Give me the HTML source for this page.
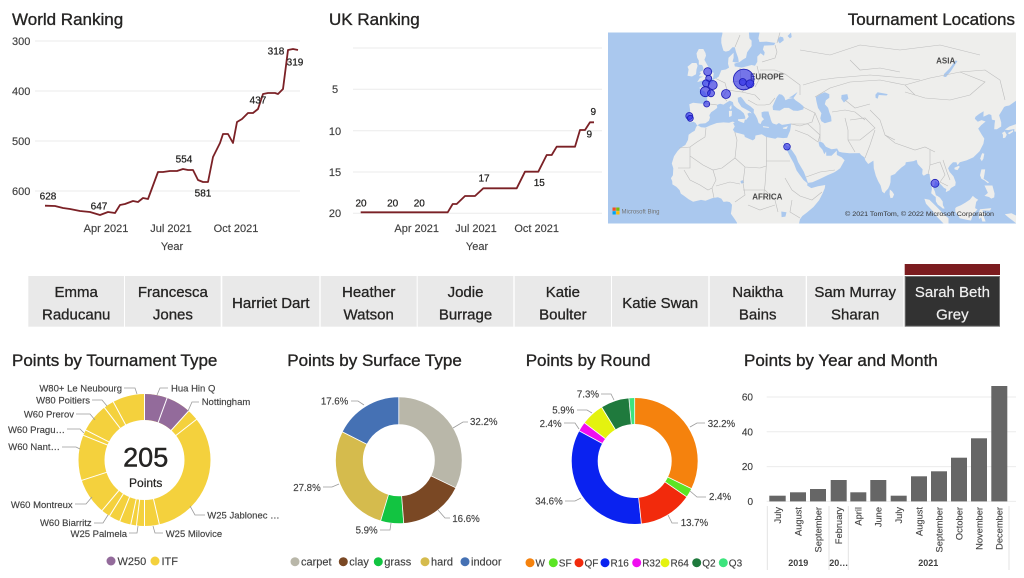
<!DOCTYPE html>
<html><head><meta charset="utf-8"><style>
html,body{margin:0;padding:0;background:#fff;width:1024px;height:578px;overflow:hidden}
svg{display:block;font-family:"Liberation Sans",Arial,sans-serif}
</style></head><body>
<svg width="1024" height="578" viewBox="0 0 1024 578" xmlns="http://www.w3.org/2000/svg">
<defs><clipPath id="mc"><rect x="608" y="32.5" width="408" height="191"/></clipPath></defs>

<!-- ============ WORLD RANKING ============ -->
<g font-size="17" fill="#252423" stroke="#252423" stroke-width="0.35">
<text x="12" y="25">World Ranking</text>
<text x="329" y="25">UK Ranking</text>
<text x="1015" y="25" text-anchor="end">Tournament Locations</text>
<text x="12" y="366">Points by Tournament Type</text>
<text x="287.3" y="366">Points by Surface Type</text>
<text x="525.7" y="366">Points by Round</text>
<text x="744" y="366">Points by Year and Month</text>
</g>
<g stroke="#ebebeb" stroke-width="1">
<line x1="35" y1="41" x2="300" y2="41"/><line x1="35" y1="91" x2="300" y2="91"/>
<line x1="35" y1="141" x2="300" y2="141"/><line x1="35" y1="191" x2="300" y2="191"/>
</g>
<g font-size="11" fill="#404040" stroke="#404040" stroke-width="0.15">
<text x="12" y="45">300</text><text x="12" y="95">400</text><text x="12" y="145">500</text><text x="12" y="195">600</text>
</g>
<polyline fill="none" stroke="#7b2126" stroke-width="1.8" stroke-linejoin="round" points="45,205.7 55,206 63,208 70,209 80,211 90,212 100,215 108,212 115,213 120,205 125,204 133,201 138,202 143,198 148,199 158,172 163,172 170,171 177,171 183,169 188,170 193,170 198,180 203,182 208,182 213,157 220,143 223,134 228,134 233,143 237,122 242,119 248,113 253,113 258,109 263,94 268,93 275,93 278,94 283,89 288,50 293,49 298,50"/>
<g font-size="10" fill="#252423" stroke="#252423" stroke-width="0.25" text-anchor="middle">
<text x="48" y="199.5">628</text><text x="99" y="209.5">647</text><text x="184" y="162.5">554</text>
<text x="203" y="196.5">581</text><text x="258" y="103.5">437</text><text x="276" y="54.5">318</text><text x="295" y="65.5">319</text>
</g>
<g font-size="11" fill="#404040" stroke="#404040" stroke-width="0.15" text-anchor="middle">
<text x="106" y="232">Apr 2021</text><text x="171" y="232">Jul 2021</text><text x="236" y="232">Oct 2021</text>
<text x="172" y="250">Year</text>
</g>

<!-- ============ UK RANKING ============ -->
<g stroke="#ebebeb" stroke-width="1">
<line x1="353" y1="48" x2="602" y2="48"/><line x1="353" y1="89.3" x2="602" y2="89.3"/>
<line x1="353" y1="130.7" x2="602" y2="130.7"/><line x1="353" y1="172" x2="602" y2="172"/>
<line x1="353" y1="213.3" x2="602" y2="213.3"/>
</g>
<g font-size="11" fill="#404040" stroke="#404040" stroke-width="0.15" text-anchor="middle">
<text x="335" y="93">5</text><text x="335" y="135">10</text><text x="335" y="176">15</text><text x="335" y="217">20</text>
</g>
<polyline fill="none" stroke="#7b2126" stroke-width="1.8" stroke-linejoin="round" points="360.7,212.3 447.7,212.3 452.7,204 456.7,204 465,196 475,196 483.3,188.3 516.7,188.3 525,171.7 538.3,171.7 546.7,155 551.7,155 556.7,146.7 575,146.7 580,130 585,130 590,122.3 594,122.3"/>
<g font-size="10" fill="#252423" stroke="#252423" stroke-width="0.25" text-anchor="middle">
<text x="361" y="206.5">20</text><text x="392.7" y="206.5">20</text><text x="419.3" y="206.5">20</text>
<text x="484" y="181.5">17</text><text x="539.3" y="186">15</text><text x="593.3" y="115">9</text><text x="589.3" y="137.5">9</text>
</g>
<g font-size="11" fill="#404040" stroke="#404040" stroke-width="0.15" text-anchor="middle">
<text x="416.7" y="232">Apr 2021</text><text x="476" y="232">Jul 2021</text><text x="536.7" y="232">Oct 2021</text>
<text x="477" y="250">Year</text>
</g>

<!-- ============ MAP ============ -->
<g clip-path="url(#mc)">
<rect x="608" y="32.5" width="408" height="191" fill="#eeeeec"/>
<g fill="#aac8ee">
<polygon points="608,32.5 722.4,32.5 722.4,33.7 721.3,38.4 721.3,42.9 722.4,47.3 723.5,50.8 725.8,51.6 729.1,50.8 732.5,47.3 734.8,47.3 735.9,51.6 738.1,57.8 738.8,61.8 736,62.5 732.5,61.8 733.6,57.8 733.6,52.8 728.5,57.8 728,63.8 729.1,67.6 725.8,69.5 721.3,70.2 720.1,73.2 718.6,76.8 715.6,78.6 713.6,79.3 713.6,81.4 710,83.9 706.6,83.2 706.6,86.6 703.3,86.3 699.4,87.6 700.3,89.6 704.4,91.3 707.3,95.5 707.1,100.3 706.6,103.7 703.3,103.7 698.8,103.4 693.1,102.8 689.3,104.3 689.8,107.9 690.2,110.9 688.6,116.7 689.3,117.5 690.2,119.9 689.8,122.4 692,122.1 693.4,121.8 695.6,123 696.5,124.6 697.4,125.2 697,125.8 696,127.3 694.7,130.7 692,132.3 688.6,134.7 688,139.9 685.3,145 680.8,147.6 677.4,151.3 674,156.2 671.8,163.5 673.3,168.2 672.9,175.3 670.9,178.3 672.2,181 672.4,184.4 676.3,186.7 679.6,190.1 680.8,193.6 684.1,195.9 688.6,199.2 693.1,201.7 701,199.9 705.5,200.8 712.3,198.1 717.9,197.2 721.3,198.6 723.5,201.9 726.9,201.5 729.8,202.1 732,204.8 731.6,209.3 730.9,213.7 734.8,219.3 737,222.7 737,224 608,224"/>
<polygon points="739.3,62.2 742.6,59.8 746,57.8 747.1,52.4 751.6,46 751.6,40.6 749.4,38.4 748.9,32.5 759.5,32.5 758.4,38.4 759.5,42 766.3,41.6 775.3,42.9 774.1,45.1 764,45.6 762.9,49.5 764.7,52.4 764,55.8 760.6,53.2 757.3,56.6 757.3,61.8 755,65.7 751.6,65 746,66.5 741.5,67.6 737,66.8 734.8,66.5 734.3,63.8 738.1,62.2"/>
<polygon points="697.4,125.2 699.9,123.8 705.5,123.3 708.9,120.7 710,117.5 709.3,115.3 711.1,112.3 714.5,110 717.2,107.9 717,104.9 720.1,103.7 723.5,104.6 726.9,102.4 729.8,100.6 732.9,102.1 733.6,105.2 737,108.2 740.4,110.3 743.8,113.2 745.3,117 745.1,119.6 746.2,119.9 747.4,118.2 748.7,116.7 747.4,113.8 749.4,112.6 751.6,113.5 750.5,112 746,109.4 741.5,107 738.1,101.8 737.7,97.8 740.8,96.8 742.6,98.7 746,103.4 750.5,106.4 753.9,109.4 753.7,112.6 755.5,115.3 757.3,118.8 758.6,123 760.6,124.1 761.8,121.2 764,119.3 761.8,116.7 761.5,112.3 764,111.5 768.5,111.5 769,113.8 770.1,116.7 770.8,119.6 771.9,122.4 773,123.5 776.4,124.6 778.9,123 782,124.9 786.5,124.3 791,123.5 790.8,126.5 790.1,130.7 788.8,133.7 787.2,137.8 783.1,138.1 777.5,137.5 775.3,138.8 766.3,137 761.8,134.2 755.5,135.5 755,138.8 752.8,140.4 744.9,137 744.2,134.7 739.3,133.4 734.8,132.3 732.9,129.7 734.8,126.5 733.2,123.2 734.8,122.1 732.5,121.6 729.1,122.7 723.5,122.4 716.8,123 710,125.5 705.5,127.6 701,127.3 698.1,125.5"/>
<polygon points="773,110 775.3,110.3 779.8,110.6 784.3,107.9 788.8,107.9 793.3,110.6 797.8,110.9 803.4,109.4 803.6,106.4 800,103.4 795.5,100.3 793.3,98 788.8,98.7 785.4,100.3 784.3,97.1 782,94.7 779.1,94.1 776.8,97.1 774.6,101.8 772.6,106.4"/>
<polygon points="789,97.5 792,96 797.5,92 796,94.5 793.5,98"/>
<polygon points="815.8,97.1 820.3,94.1 824.8,92.3 829.3,94.1 829.3,97.8 825.9,100.3 824.8,104.3 828.1,107.9 829.3,112.3 831.1,116.7 831.5,121.3 824.8,123.2 821.4,121.2 820.3,118.2 821.4,113.2 818,107.9 816.9,103.4 816.2,100.3"/>
<polygon points="783.1,141.2 784.3,145 786,148.5 789.9,156.2 793.9,163.5 796.6,170.5 800,175.3 803.4,179.9 807.4,183.2 807.2,185.5 811.3,188.1 818,186.3 825.2,185 824.8,188.1 822.5,193.6 819.1,200.3 813.5,207 806.8,212.6 802.3,216 800,219.3 798.9,224 1017,224 1017,100 1009.3,105.5 1005.9,106.1 1004.1,107 1001.8,110.9 999.1,115.3 1001.2,122.4 1001.2,126.5 996.9,129.2 994.2,129.2 994.6,123.8 995.1,120.4 991.9,119.6 991.3,115 989,114.1 983.4,116.7 983.6,111.2 978.9,114.1 975.5,116.7 974.8,118.8 977.8,121.8 981.6,120.1 985.6,121.5 981.1,125.2 978.2,128.6 981.8,134.7 984.3,138.6 983.4,143.8 979.6,151.3 973.3,157.4 966.5,160.4 959.8,162.3 957.5,165.2 956.4,162.3 953,162.3 949.9,165.4 948.1,168.2 949.6,171.9 953.5,176.4 955.7,182.2 955.3,185.5 950.8,188.1 949.6,190.2 945.8,192.1 946.3,189 944,187.9 941.8,185.5 939.5,183.2 937,182.6 935.2,180.8 934.8,183.2 933.2,187.9 934.8,191.2 935.9,195.2 937.9,196.3 940,197.7 942.7,201.5 942.9,205.2 944.7,208.4 942.9,208.6 940.6,206.6 937.9,204.8 935.9,201.5 935.7,197 934.1,195.9 931.2,193.2 931.9,189 931.6,184.4 930,178 929.6,174.1 927.1,173.7 923.8,175.7 922.2,174.1 922.6,169.3 920.6,167.1 917.7,164 916.6,159.9 913.6,161.1 910.3,161.6 905.8,162.3 905.3,164.7 901.3,167.6 896.8,171.9 895,174 890.7,175.7 890.5,182.2 889.6,185.5 888.2,188.5 885.5,191.5 884.4,193.4 882.1,191.5 880.6,185.5 878.1,181.1 875.8,175.7 873.8,168.2 873.6,163.6 873.4,160.6 868.2,164 865.3,160.2 864.6,157.5 861.2,155.1 859.6,153.1 849.5,153.3 842.3,152.5 839,151.8 837.1,148.5 831.5,149.3 825.9,146.8 823.2,143 819.8,141.2 818.5,142.5 819.4,146.3 822.5,149.8 824.3,154.3 826.1,151.5 826.3,155.7 831.5,155.7 835.1,152.2 836.7,150.5 836.9,155 841.6,157.2 844.6,160.2 842.1,164.7 840.1,168.2 837.1,170.5 834.2,172.4 827.5,175.3 820.3,178.8 812.4,182.2 807.9,182.9 806.1,177.6 803.8,171.7 798.2,162.3 796,156.2 792.6,151.3 788.8,146.3 787.4,146.3 785.6,144.6 783.4,141.5"/>
<polygon points="777.5,39.8 780,36.5 783.1,37.4 783.8,40.2 779.8,43.4 778.6,42"/>
<polygon points="787.6,36 791,32.5 791.7,37 789.9,38.4"/>
<polygon points="841.6,95 847.3,94.1 848.4,98.7 843.9,102.5 841.2,98.7"/>
<polygon points="875.4,94.7 877.6,92.3 887.8,94.1 886.6,95.5 878.8,95 877.6,98.7 875.6,97.8"/>
<polygon points="943.5,76.8 946,77 951,71 957.5,61 955.5,60.5 950,68 944,74"/>
<polygon points="781.3,211.5 786.5,212.2 785.4,216.6 781.6,217.1"/>
<polygon points="740.5,181 743.5,180 744,183 741,183.5"/>
</g>
<g fill="#eeeeec">
<polygon points="698.8,49 703.3,49 705.5,53 706,55.8 704.4,59.8 706.6,63.8 708.9,67.6 710.5,69.5 710.7,71.8 713.8,72.9 713.2,77.2 712.9,78.2 710,79.3 705.5,80 701,81 697.2,82.1 699.9,77.9 703.3,76.8 698.8,76.1 701,73.2 699.4,72.1 703.3,70.2 703.3,67.6 702.1,65 698.8,64.6 698.8,60.6 697.2,57.8 696.5,53.4"/>
<polygon points="696.5,63 697.6,65.8 696.5,69.5 696,74.3 692,76.5 687.5,75.7 688.6,69.5 687.5,66.8 692,63"/>
<polygon points="737.9,119.3 745.1,118.8 744,123 741,122 738.1,120.7"/>
<polygon points="728.9,110.9 732,110.9 731.6,116 729.1,117"/>
<polygon points="731.2,104.9 731.6,107.9 730.7,109.7 729.4,107.9"/>
<polygon points="762.9,126.1 769.2,127 768.5,127.9 763.1,127.3"/>
<polygon points="782.7,127.9 787.9,126.1 786.5,129 783.1,128.7"/>
<polygon points="924.4,198.8 929.4,199.8 935.7,205.9 943.3,213.7 948.5,218.2 948.5,224 944,224 937.3,217.1 932.1,210.4 926,203.7"/>
<polygon points="955.3,208.1 956.6,207 960.9,205.2 965.4,202.6 969.9,199.6 972.8,195.9 975.5,198.1 978.2,199.8 976.2,201.9 975.1,208.1 977.5,209.5 974.4,212.6 972.1,217.1 971,220.5 967.6,220 959.8,218.2 957.5,214.9 955.3,211.5"/>
<polygon points="980,209.3 991.3,208.1 990.1,210.6 982.3,210.4 984.5,213.7 987.4,213.5 983.4,215.5 985.6,221.5 982.3,221.5 981.1,217.1 978.9,219.3 978.9,212.6"/>
<polygon points="981.4,169.4 985.2,169.4 984.5,174.1 983.6,178.8 989,182.2 987.9,183.3 984.5,180.4 981.4,178.8 980,175.3"/>
<polygon points="984.5,185.5 992.4,185.5 994.6,193.6 994.2,197.4 991.3,198.6 989,197 984.5,195.9 987.9,192.9 985.6,187.9"/>
<polygon points="982.3,153.1 984.3,153.8 983.4,158.6 981.8,161.3 980.2,158.6 981.4,155"/>
<polygon points="954.4,167.8 958.6,165.9 959.8,166.8 957.5,170.1 954.6,169.4"/>
<polygon points="889.8,189.5 892,191.2 894.1,194.4 892.7,197.7 890.5,198.1 889.6,194.4"/>
<polygon points="1002,133 1004.8,131.4 1006.8,134.7 1005.2,137.8 1002.95,138.1 1002.95,134.7"/>
<polygon points="1004.8,129.6 1009.3,126.5 1017,123.8 1017,131.9 1014.2,131.4 1014.4,129 1008.1,130.1"/>
<polygon points="1007.7,133.1 1012.9,130.1 1013.1,131.7 1009.3,134.2"/>
<polygon points="1004.8,214.2 1011.5,213.3 1017,216 1017,224 1012.6,220.5 1008.1,217.1"/>
</g>
<g fill="none" stroke="#bdbdbd" stroke-width="0.6">
<polyline points="706,128 705,137 697,142 690,147 679,148"/>
<polyline points="690,147 690,156 703,165 713,170 722,168 735,158"/>
<polyline points="734.8,132 737,140 735,158 745,167 760,168 766.3,166"/>
<polyline points="766.3,137 766.3,166 765,185 763,200"/>
<polyline points="766.3,161 790,161"/>
<polyline points="678,168 690,168 690,156"/>
<polyline points="713,170 716,180 712,188 714,198"/>
<polyline points="745,167 743,183 745,195 735,202"/>
<polyline points="716,186 730,182 740,184"/>
<polyline points="785,178 792,190 800,196 812,200 822,192"/>
<polyline points="792,200 790,212 800,218"/>
<polyline points="743,190 765,190 775,200 778,212"/>
<polyline points="748,205 760,210 775,205"/>
<polyline points="684,170 690,180 700,185 708,190 712,188"/>
<polyline points="707,103.7 717,104.9"/>
<polyline points="716,78.6 725,83 727,90 723,97 727,101"/>
<polyline points="740,68 741,85"/>
<polyline points="727,90 742,92 746,88"/>
<polyline points="757,66 760,78 755,87"/>
<polyline points="732,82 746,80 752,86 745,90 735,88"/>
<polyline points="742,92 755,95 760,100"/>
<polyline points="748,100 757,105 765,105 770,104 775,98"/>
<polyline points="760,78 785,74 800,85 800,95"/>
<polyline points="760,70 775,70 785,74"/>
<polyline points="762,62 775,58 777,52 775,45"/>
<polyline points="777,43 780,32.5"/>
<polyline points="735,47 740,35"/>
<polyline points="803,107 815,113 812,122 800,126 791,124"/>
<polyline points="791,124 808,124 820,135 818,142"/>
<polyline points="815,113 820,125 820,141"/>
<polyline points="795,130 808,135 818,142"/>
<polyline points="806,177 820,172 835,170"/>
<polyline points="845,118 848,130 848,140 855,152"/>
<polyline points="815,97 830,88 850,82 880,80 905,85 915,95"/>
<polyline points="803,85 820,80 835,78 870,75 905,78 920,80"/>
<polyline points="832,112 845,110 855,112 865,120"/>
<polyline points="845,100 855,108 870,104"/>
<polyline points="870,110 880,120 885,135 895,140"/>
<polyline points="885,135 895,143 915,150 925,147 935,152"/>
<polyline points="875,130 870,145 865,158"/>
<polyline points="905,85 930,78 960,72 985,82 970,95 950,100 925,98 905,92"/>
<polyline points="960,72 985,70 1000,80 1005,100"/>
<polyline points="930,150 930,165 928,175"/>
<polyline points="930,165 940,162 945,175 940,182"/>
<polyline points="943,160 947,172 950,180"/>
<polyline points="940,182 948,186"/>
<polyline points="850,120 865,118 875,128 860,140 848,140"/>
<polyline points="850,60 860,70 880,68 900,72"/>
<polyline points="800,50 830,55 860,45 900,50 940,45 980,55"/>
</g>
<g font-size="8" font-weight="bold" fill="#4a4a4a" text-anchor="middle">
<text x="767" y="79.6">EUROPE</text>
<text x="945.7" y="63.6">ASIA</text>
<text x="767.3" y="199.6">AFRICA</text>
</g>
<g fill="#2a2ae6" fill-opacity="0.62" stroke="#1c1cb5" stroke-width="0.8">
<circle cx="707.7" cy="71.7" r="4"/>
<circle cx="708.7" cy="78.3" r="3"/>
<circle cx="706" cy="83.3" r="3.5"/>
<circle cx="712.7" cy="85" r="4.5"/>
<circle cx="705.3" cy="91.7" r="5"/>
<circle cx="711" cy="93.3" r="3.5"/>
<circle cx="726" cy="94" r="4.5"/>
<circle cx="706.7" cy="104" r="3"/>
<circle cx="689.3" cy="116" r="3.5"/>
<circle cx="690.3" cy="118.3" r="3"/>
<circle cx="743.7" cy="79.5" r="10.3"/>
<circle cx="742.7" cy="82" r="3.5"/>
<circle cx="750" cy="83.8" r="4"/>
<circle cx="787" cy="146.7" r="3.3"/>
<circle cx="935" cy="183.3" r="4"/>
</g>
<rect x="612.5" y="207.5" width="3.3" height="3.3" fill="#f25022"/>
<rect x="616.2" y="207.5" width="3.3" height="3.3" fill="#7fba00"/>
<rect x="612.5" y="211.2" width="3.3" height="3.3" fill="#00a4ef"/>
<rect x="616.2" y="211.2" width="3.3" height="3.3" fill="#ffb900"/>
<text x="621.5" y="213.5" font-size="6" fill="#737373">Microsoft Bing</text>
<text x="845" y="216" font-size="6.6" fill="#333" textLength="149" lengthAdjust="spacingAndGlyphs">© 2021 TomTom, © 2022 Microsoft Corporation</text>
</g>

<!-- ============ BUTTONS ============ -->
<rect x="904.7" y="264" width="95.3" height="11" fill="#7b1c1f"/>
<g fill="#e9e9e9">
<rect x="28.3" y="276" width="95.7" height="50.7"/>
<rect x="125" y="276" width="95.7" height="50.7"/>
<rect x="222.3" y="276" width="97" height="50.7"/>
<rect x="320.7" y="276" width="96" height="50.7"/>
<rect x="417.7" y="276" width="95.6" height="50.7"/>
<rect x="514.7" y="276" width="96.3" height="50.7"/>
<rect x="612" y="276" width="96.3" height="50.7"/>
<rect x="709.7" y="276" width="96" height="50.7"/>
<rect x="807" y="276" width="96.3" height="50.7"/>
</g>
<rect x="905.2" y="276.5" width="94.3" height="49.7" fill="#323232" stroke="#707070" stroke-width="1"/>
<g font-size="15" fill="#252423" stroke="#252423" stroke-width="0.3" text-anchor="middle">
<text x="76.2" y="297">Emma</text><text x="76.2" y="319.5">Raducanu</text>
<text x="172.9" y="297">Francesca</text><text x="172.9" y="319.5">Jones</text>
<text x="270.8" y="308">Harriet Dart</text>
<text x="368.7" y="297">Heather</text><text x="368.7" y="319.5">Watson</text>
<text x="465.5" y="297">Jodie</text><text x="465.5" y="319.5">Burrage</text>
<text x="562.9" y="297">Katie</text><text x="562.9" y="319.5">Boulter</text>
<text x="660.2" y="308">Katie Swan</text>
<text x="757.7" y="297">Naiktha</text><text x="757.7" y="319.5">Bains</text>
<text x="855.2" y="297">Sam Murray</text><text x="855.2" y="319.5">Sharan</text>
</g>
<g font-size="15" fill="#f0f0f0" stroke="#f0f0f0" stroke-width="0.2" text-anchor="middle">
<text x="952.4" y="297">Sarah Beth</text><text x="952.4" y="319.5">Grey</text>
</g>

<!-- ============ POINTS BY TOURNAMENT TYPE ============ -->
<circle cx="144.5" cy="460" r="53" fill="none" stroke="#f4d13d" stroke-width="26"/>
<circle cx="144.5" cy="460" r="53" fill="none" stroke="#936b9b" stroke-width="26" stroke-dasharray="38.85 400" transform="rotate(-90 144.5 460)"/>
<g stroke="#fff" stroke-width="1">
<line x1="144.5" y1="421" x2="144.5" y2="393" transform="rotate(0 144.5 460)"/>
<line x1="144.5" y1="421" x2="144.5" y2="393" transform="rotate(20 144.5 460)"/>
<line x1="144.5" y1="421" x2="144.5" y2="393" transform="rotate(42 144.5 460)"/>
<line x1="144.5" y1="421" x2="144.5" y2="393" transform="rotate(52 144.5 460)"/>
<line x1="144.5" y1="421" x2="144.5" y2="393" transform="rotate(167 144.5 460)"/>
<line x1="144.5" y1="421" x2="144.5" y2="393" transform="rotate(180 144.5 460)"/>
<line x1="144.5" y1="421" x2="144.5" y2="393" transform="rotate(187 144.5 460)"/>
<line x1="144.5" y1="421" x2="144.5" y2="393" transform="rotate(192 144.5 460)"/>
<line x1="144.5" y1="421" x2="144.5" y2="393" transform="rotate(202 144.5 460)"/>
<line x1="144.5" y1="421" x2="144.5" y2="393" transform="rotate(212 144.5 460)"/>
<line x1="144.5" y1="421" x2="144.5" y2="393" transform="rotate(220 144.5 460)"/>
<line x1="144.5" y1="421" x2="144.5" y2="393" transform="rotate(252 144.5 460)"/>
<line x1="144.5" y1="421" x2="144.5" y2="393" transform="rotate(292 144.5 460)"/>
<line x1="144.5" y1="421" x2="144.5" y2="393" transform="rotate(297 144.5 460)"/>
<line x1="144.5" y1="421" x2="144.5" y2="393" transform="rotate(322.6 144.5 460)"/>
<line x1="144.5" y1="421" x2="144.5" y2="393" transform="rotate(331.8 144.5 460)"/>
</g>
<text x="145.7" y="466.4" font-size="27" fill="#252423" stroke="#252423" stroke-width="0.45" text-anchor="middle">205</text>
<text x="145.7" y="487" font-size="12" fill="#252423" stroke="#252423" stroke-width="0.2" text-anchor="middle">Points</text>
<g fill="none" stroke="#9a9a9a" stroke-width="0.8">
<polyline points="124,388 135,388 137,394"/>
<polyline points="157,395 160,388 168,388"/>
<polyline points="188,411 192,402 199,402"/>
<polyline points="92,400 102,400 107,406"/>
<polyline points="76,414 90,414 95,420"/>
<polyline points="67,429 80,429 84,433"/>
<polyline points="62,447 76,447 80,449"/>
<polyline points="75,504 86,504 92,497"/>
<polyline points="94,523 103,523 108,515"/>
<polyline points="129,533 137,533 138,526"/>
<polyline points="153,526 155,533 163,533"/>
<polyline points="190,506 195,515 205,515"/>
</g>
<g font-size="9.5" fill="#404040" stroke="#404040" stroke-width="0.15">
<text x="122" y="391.3" text-anchor="end">W80+ Le Neubourg</text>
<text x="171" y="391.3">Hua Hin Q</text>
<text x="201.7" y="405">Nottingham</text>
<text x="90" y="403.5" text-anchor="end">W80 Poitiers</text>
<text x="74" y="417.5" text-anchor="end">W60 Prerov</text>
<text x="65" y="432.8" text-anchor="end">W60 Pragu…</text>
<text x="60" y="450.2" text-anchor="end">W60 Nant…</text>
<text x="72.7" y="507.8" text-anchor="end">W60 Montreux</text>
<text x="91.7" y="526.2" text-anchor="end">W60 Biarritz</text>
<text x="127" y="536.8" text-anchor="end">W25 Palmela</text>
<text x="165.7" y="536.8">W25 Milovice</text>
<text x="207.3" y="518.5">W25 Jablonec …</text>
</g>
<circle cx="111" cy="561" r="4.5" fill="#936b9b"/>
<circle cx="155" cy="561" r="4.5" fill="#f4d13d"/>
<g font-size="11" fill="#404040" stroke="#404040" stroke-width="0.15">
<text x="117.5" y="565">W250</text>
<text x="161.5" y="565">ITF</text>
</g>

<!-- ============ POINTS BY SURFACE TYPE ============ -->
<g fill="none" stroke-width="27" transform="rotate(-90 398.8 460.3)">
<circle cx="398.8" cy="460.3" r="49.5" stroke="#b9b7a9" stroke-dasharray="100.05 311.02" stroke-dashoffset="0"/>
<circle cx="398.8" cy="460.3" r="49.5" stroke="#7a4824" stroke-dasharray="51.57 311.02" stroke-dashoffset="-100.05"/>
<circle cx="398.8" cy="460.3" r="49.5" stroke="#12c441" stroke-dasharray="18.33 311.02" stroke-dashoffset="-151.62"/>
<circle cx="398.8" cy="460.3" r="49.5" stroke="#d5bb4d" stroke-dasharray="86.37 311.02" stroke-dashoffset="-169.95"/>
<circle cx="398.8" cy="460.3" r="49.5" stroke="#4571b4" stroke-dasharray="54.68 311.02" stroke-dashoffset="-256.32"/>
</g>
<g stroke="#fff" stroke-width="0.8">
<line x1="398.8" y1="424.5" x2="398.8" y2="396.5" transform="rotate(0 398.8 460.3)"/>
<line x1="398.8" y1="424.5" x2="398.8" y2="396.5" transform="rotate(115.8 398.8 460.3)"/>
<line x1="398.8" y1="424.5" x2="398.8" y2="396.5" transform="rotate(175.5 398.8 460.3)"/>
<line x1="398.8" y1="424.5" x2="398.8" y2="396.5" transform="rotate(196.7 398.8 460.3)"/>
<line x1="398.8" y1="424.5" x2="398.8" y2="396.5" transform="rotate(296.7 398.8 460.3)"/>
</g>
<g fill="none" stroke="#9a9a9a" stroke-width="0.8">
<polyline points="453,428 463,422 468,422"/>
<polyline points="438,510 445,518 450,518"/>
<polyline points="391,523 390,530 380,530"/>
<polyline points="339,484 332,487 323,487"/>
<polyline points="364,405 358,401 351,401"/>
</g>
<g font-size="9.7" fill="#404040" stroke="#404040" stroke-width="0.15">
<text x="470" y="425">32.2%</text>
<text x="452.3" y="521.8">16.6%</text>
<text x="377.7" y="533.5" text-anchor="end">5.9%</text>
<text x="320.7" y="490.8" text-anchor="end">27.8%</text>
<text x="348.3" y="404.5" text-anchor="end">17.6%</text>
</g>
<circle cx="295" cy="561.7" r="4.5" fill="#b9b7a9"/>
<circle cx="343.3" cy="561.7" r="4.5" fill="#7a4824"/>
<circle cx="378.3" cy="561.7" r="4.5" fill="#12c441"/>
<circle cx="425" cy="561.7" r="4.5" fill="#d5bb4d"/>
<circle cx="465" cy="561.7" r="4.5" fill="#4571b4"/>
<g font-size="11" fill="#404040" stroke="#404040" stroke-width="0.15">
<text x="301" y="565.5">carpet</text>
<text x="349.3" y="565.5">clay</text>
<text x="384.3" y="565.5">grass</text>
<text x="431" y="565.5">hard</text>
<text x="471" y="565.5">indoor</text>
</g>

<!-- ============ POINTS BY ROUND ============ -->
<g fill="none" stroke-width="26" transform="rotate(-90 634.7 461)">
<circle cx="634.7" cy="461" r="50" stroke="#f5820d" stroke-dasharray="101.16 314.16" stroke-dashoffset="0"/>
<circle cx="634.7" cy="461" r="50" stroke="#5be524" stroke-dasharray="7.54 314.16" stroke-dashoffset="-101.16"/>
<circle cx="634.7" cy="461" r="50" stroke="#f22a0c" stroke-dasharray="43.04 314.16" stroke-dashoffset="-108.70"/>
<circle cx="634.7" cy="461" r="50" stroke="#0a22f0" stroke-dasharray="108.70 314.16" stroke-dashoffset="-151.74"/>
<circle cx="634.7" cy="461" r="50" stroke="#f00ef0" stroke-dasharray="7.54 314.16" stroke-dashoffset="-260.44"/>
<circle cx="634.7" cy="461" r="50" stroke="#e4f20f" stroke-dasharray="18.54 314.16" stroke-dashoffset="-267.98"/>
<circle cx="634.7" cy="461" r="50" stroke="#1f7a3d" stroke-dasharray="22.93 314.16" stroke-dashoffset="-286.52"/>
<circle cx="634.7" cy="461" r="50" stroke="#3de47d" stroke-dasharray="4.71 314.16" stroke-dashoffset="-309.45"/>
</g>
<g stroke="#fff" stroke-width="0.8">
<line x1="634.7" y1="424" x2="634.7" y2="397" transform="rotate(0 634.7 461)"/>
<line x1="634.7" y1="424" x2="634.7" y2="397" transform="rotate(115.9 634.7 461)"/>
<line x1="634.7" y1="424" x2="634.7" y2="397" transform="rotate(124.6 634.7 461)"/>
<line x1="634.7" y1="424" x2="634.7" y2="397" transform="rotate(173.9 634.7 461)"/>
<line x1="634.7" y1="424" x2="634.7" y2="397" transform="rotate(298.5 634.7 461)"/>
<line x1="634.7" y1="424" x2="634.7" y2="397" transform="rotate(307.2 634.7 461)"/>
<line x1="634.7" y1="424" x2="634.7" y2="397" transform="rotate(328.4 634.7 461)"/>
<line x1="634.7" y1="424" x2="634.7" y2="397" transform="rotate(354.7 634.7 461)"/>
</g>
<g fill="none" stroke="#9a9a9a" stroke-width="0.8">
<polyline points="690,427 697,423 705,423"/>
<polyline points="690,491 697,497 706,497"/>
<polyline points="668,515 672,523 678,523"/>
<polyline points="581,498 575,501 565,501"/>
<polyline points="579,429 575,423 564,423"/>
<polyline points="592,413 587,410 577,410"/>
<polyline points="614,400 611,394 601,394"/>
</g>
<g font-size="9.7" fill="#404040" stroke="#404040" stroke-width="0.15">
<text x="707.7" y="426.8">32.2%</text>
<text x="709" y="500.2">2.4%</text>
<text x="680.7" y="526.2">13.7%</text>
<text x="562.7" y="504.5" text-anchor="end">34.6%</text>
<text x="561.7" y="426.8" text-anchor="end">2.4%</text>
<text x="574.3" y="413.5" text-anchor="end">5.9%</text>
<text x="599" y="397.5" text-anchor="end">7.3%</text>
</g>
<circle cx="530" cy="562.7" r="4.5" fill="#f5820d"/>
<circle cx="553.3" cy="562.7" r="4.5" fill="#5be524"/>
<circle cx="579" cy="562.7" r="4.5" fill="#f22a0c"/>
<circle cx="605" cy="562.7" r="4.5" fill="#0a22f0"/>
<circle cx="636.7" cy="562.7" r="4.5" fill="#f00ef0"/>
<circle cx="665" cy="562.7" r="4.5" fill="#e4f20f"/>
<circle cx="696.7" cy="562.7" r="4.5" fill="#1f7a3d"/>
<circle cx="723.3" cy="562.7" r="4.5" fill="#3de47d"/>
<g font-size="10" fill="#404040" stroke="#404040" stroke-width="0.15">
<text x="535.5" y="566.5">W</text>
<text x="558.8" y="566.5">SF</text>
<text x="584.5" y="566.5">QF</text>
<text x="610.5" y="566.5">R16</text>
<text x="642.2" y="566.5">R32</text>
<text x="670.5" y="566.5">R64</text>
<text x="702.2" y="566.5">Q2</text>
<text x="728.8" y="566.5">Q3</text>
</g>

<!-- ============ POINTS BY YEAR AND MONTH ============ -->
<g stroke="#ebebeb" stroke-width="1">
<line x1="766.7" y1="397" x2="1016" y2="397"/><line x1="766.7" y1="431.8" x2="1016" y2="431.8"/>
<line x1="766.7" y1="466.6" x2="1016" y2="466.6"/><line x1="766.7" y1="501.4" x2="1016" y2="501.4"/>
</g>
<g font-size="10" fill="#404040" stroke="#404040" stroke-width="0.15" text-anchor="end">
<text x="753" y="400.5">60</text><text x="753" y="435.3">40</text><text x="753" y="470.1">20</text><text x="753" y="504.9">0</text>
</g>
<g fill="#666666">
<rect x="769.3" y="495.7" width="16.4" height="5.7"/>
<rect x="790" y="492.3" width="16" height="9.1"/>
<rect x="810" y="489" width="16" height="12.4"/>
<rect x="830.7" y="480" width="16" height="21.4"/>
<rect x="850.3" y="492.3" width="16" height="9.1"/>
<rect x="870.3" y="480" width="16" height="21.4"/>
<rect x="890.7" y="495.7" width="16" height="5.7"/>
<rect x="911" y="476.3" width="16" height="25.1"/>
<rect x="931" y="471.3" width="16" height="30.1"/>
<rect x="951" y="457.7" width="16" height="43.7"/>
<rect x="971" y="438.3" width="16" height="63.1"/>
<rect x="991.3" y="386" width="16" height="115.4"/>
</g>
<g font-size="9.3" fill="#404040" stroke="#404040" stroke-width="0.12" text-anchor="end">
<text transform="translate(780.8,507) rotate(-90)">July</text>
<text transform="translate(801.3,507) rotate(-90)">August</text>
<text transform="translate(821.3,507) rotate(-90)">September</text>
<text transform="translate(842,507) rotate(-90)">February</text>
<text transform="translate(861.6,507) rotate(-90)">April</text>
<text transform="translate(881.6,507) rotate(-90)">June</text>
<text transform="translate(902,507) rotate(-90)">July</text>
<text transform="translate(922.3,507) rotate(-90)">August</text>
<text transform="translate(942.3,507) rotate(-90)">September</text>
<text transform="translate(962.3,507) rotate(-90)">October</text>
<text transform="translate(982.3,507) rotate(-90)">November</text>
<text transform="translate(1002.6,507) rotate(-90)">December</text>
</g>
<g stroke="#e3e3e3" stroke-width="1">
<line x1="767.3" y1="506" x2="767.3" y2="570"/>
<line x1="829" y1="506" x2="829" y2="570"/>
<line x1="848.3" y1="506" x2="848.3" y2="570"/>
<line x1="1009" y1="506" x2="1009" y2="570"/>
</g>
<g font-size="9" font-weight="bold" fill="#404040" text-anchor="middle">
<text x="798.3" y="566">2019</text>
<text x="838.7" y="566">20…</text>
<text x="928.3" y="566">2021</text>
</g>
</svg>
</body></html>
